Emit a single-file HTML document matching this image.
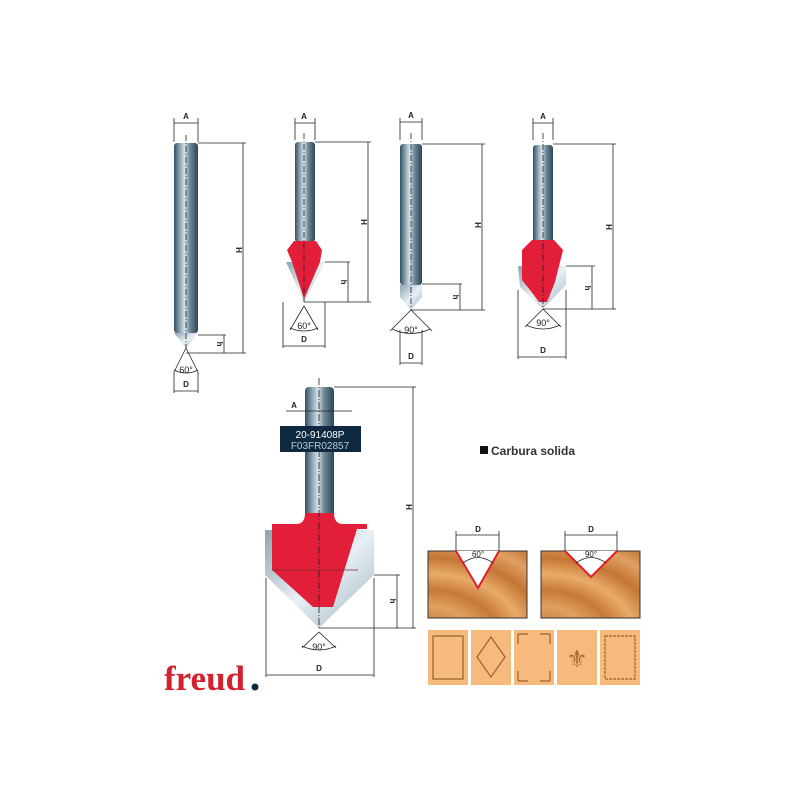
<!DOCTYPE html>
<html><head><meta charset="utf-8"><style>
html,body{margin:0;padding:0;background:#fff}
svg{display:block}
</style></head><body>
<svg width="800" height="800" viewBox="0 0 800 800" xmlns="http://www.w3.org/2000/svg" font-family="Liberation Sans, sans-serif">
<defs>
<linearGradient id="sh" x1="0" x2="1" y1="0" y2="0">
<stop offset="0" stop-color="#2f4f62"/><stop offset="0.25" stop-color="#8fa6b3"/><stop offset="0.45" stop-color="#d8e3ea"/><stop offset="0.65" stop-color="#6f8a99"/><stop offset="1" stop-color="#2c4657"/>
</linearGradient>
<linearGradient id="gr" x1="0" x2="1" y1="0" y2="1">
<stop offset="0" stop-color="#8da3b0"/><stop offset="0.5" stop-color="#e8f0f5"/><stop offset="1" stop-color="#9fb4c0"/>
</linearGradient>
<radialGradient id="wood" cx="0" cy="1.3" r="1.6">
<stop offset="0" stop-color="#b8652a"/><stop offset="0.3" stop-color="#e0a060"/><stop offset="0.45" stop-color="#c87838"/><stop offset="0.6" stop-color="#e8ac6a"/><stop offset="0.75" stop-color="#c57535"/><stop offset="0.9" stop-color="#dfa062"/><stop offset="1" stop-color="#c98040"/>
</radialGradient>
</defs>
<g stroke="#222" stroke-width="0.8" fill="none">
<!-- Tool 1 -->
<rect x="174" y="143" width="24" height="190" rx="3" fill="url(#sh)" stroke="none"/>
<polygon points="174,333 198,333 186,348" fill="url(#gr)" stroke="none"/>
<line x1="186" y1="135" x2="186" y2="348" stroke-dasharray="6,2,1,2"/>
<line x1="174" y1="118" x2="174" y2="142"/><line x1="198" y1="118" x2="198" y2="142"/><line x1="174" y1="123" x2="198" y2="123"/>
<line x1="198" y1="143" x2="246" y2="143"/><line x1="243" y1="143" x2="243" y2="353"/><line x1="186" y1="353" x2="246" y2="353"/>
<line x1="198" y1="335" x2="226" y2="335"/><line x1="224" y1="335" x2="224" y2="353"/>
<line x1="186" y1="348" x2="174" y2="372"/><line x1="186" y1="348" x2="198" y2="372"/>
<path d="M174,370 Q186,376 198,370"/>
<line x1="174" y1="372" x2="174" y2="393"/><line x1="198" y1="372" x2="198" y2="393"/><line x1="174" y1="391" x2="198" y2="391"/>
<!-- Tool 2 -->
<rect x="295" y="142" width="20" height="100" rx="3" fill="url(#sh)" stroke="none"/>
<polygon points="286,262 294,262 304,296 314,262 325,262 304,302" fill="url(#gr)" stroke="none"/>
<polygon points="294,241 316,241 322,250 320,262 304,299 292,262 287,250" fill="#e31e38" stroke="none"/>
<line x1="304" y1="133" x2="304" y2="302" stroke-dasharray="6,2,1,2"/>
<line x1="295" y1="118" x2="295" y2="140"/><line x1="315" y1="118" x2="315" y2="140"/><line x1="295" y1="123" x2="315" y2="123"/>
<line x1="315" y1="142" x2="371" y2="142"/><line x1="368" y1="142" x2="368" y2="302"/><line x1="304" y1="302" x2="371" y2="302"/>
<line x1="325" y1="262" x2="350" y2="262"/><line x1="348" y1="262" x2="348" y2="302"/>
<line x1="304" y1="306" x2="290" y2="330"/><line x1="304" y1="306" x2="318" y2="330"/>
<path d="M290,328 Q304,334 318,328"/>
<line x1="283" y1="302" x2="283" y2="348"/><line x1="325" y1="302" x2="325" y2="348"/><line x1="283" y1="346" x2="325" y2="346"/>
<!-- Tool 3 -->
<rect x="400" y="144" width="22" height="141" rx="3" fill="url(#sh)" stroke="none"/>
<polygon points="400,285 422,285 422,297 411,310 400,297" fill="url(#gr)" stroke="none"/>
<line x1="411" y1="133" x2="411" y2="310" stroke-dasharray="6,2,1,2"/>
<line x1="400" y1="118" x2="400" y2="140"/><line x1="422" y1="118" x2="422" y2="140"/><line x1="400" y1="122" x2="422" y2="122"/>
<line x1="422" y1="144" x2="485" y2="144"/><line x1="482" y1="144" x2="482" y2="310"/><line x1="411" y1="310" x2="485" y2="310"/>
<line x1="422" y1="284" x2="462" y2="284"/><line x1="460" y1="284" x2="460" y2="310"/>
<line x1="411" y1="310" x2="390" y2="331"/><line x1="411" y1="310" x2="432" y2="331"/>
<path d="M392,329 Q411,338 430,329"/>
<line x1="400" y1="330" x2="400" y2="365"/><line x1="422" y1="330" x2="422" y2="365"/><line x1="400" y1="363" x2="422" y2="363"/>
<!-- Tool 4 -->
<rect x="533" y="145" width="20" height="97" rx="3" fill="url(#sh)" stroke="none"/>
<polygon points="518,266 566,266 566,285 543,309 520,287" fill="url(#gr)" stroke="none"/>
<polygon points="532,240 554,240 563,250 555,282 547,302 539,302 530,290 522,280 522,250" fill="#e31e38" stroke="none"/>
<line x1="543" y1="133" x2="543" y2="309" stroke-dasharray="6,2,1,2"/>
<line x1="533" y1="118" x2="533" y2="140"/><line x1="553" y1="118" x2="553" y2="140"/><line x1="533" y1="123" x2="553" y2="123"/>
<line x1="553" y1="144" x2="616" y2="144"/><line x1="613" y1="144" x2="613" y2="309"/><line x1="543" y1="309" x2="616" y2="309"/>
<line x1="566" y1="266" x2="595" y2="266"/><line x1="592" y1="266" x2="592" y2="309"/>
<line x1="543" y1="309" x2="525" y2="327"/><line x1="543" y1="309" x2="561" y2="327"/>
<path d="M526,325 Q543,333 560,325"/>
<line x1="518" y1="290" x2="518" y2="359"/><line x1="566" y1="290" x2="566" y2="359"/><line x1="518" y1="357" x2="566" y2="357"/>
<!-- Big tool -->
<rect x="305" y="387" width="29" height="132" rx="4" fill="url(#sh)" stroke="none"/>
<polygon points="265,530 272,530 272,570 313,607 333,607 357,530 374,530 374,575 319,628 265,575" fill="url(#gr)" stroke="none"/>
<path d="M305,513 Q305,524 296,524 L272,524 L272,570 L313,607 L333,607 L357,529 L367,529 L367,524 L343,524 Q334,524 334,513 Z" fill="#e31e38" stroke="none"/>
<line x1="272" y1="570" x2="358" y2="570" stroke="#7a2a2a"/>
<line x1="319" y1="378" x2="319" y2="628" stroke-dasharray="7,2,1,2"/>
<line x1="286" y1="411" x2="352" y2="411"/>
<line x1="334" y1="387" x2="416" y2="387"/><line x1="413" y1="387" x2="413" y2="628"/><line x1="319" y1="628" x2="416" y2="628"/>
<line x1="374" y1="575" x2="400" y2="575"/><line x1="397" y1="575" x2="397" y2="628"/>
<line x1="319" y1="632" x2="302" y2="648"/><line x1="319" y1="632" x2="336" y2="648"/>
<path d="M302,646 Q319,654 336,646"/>
<line x1="266" y1="578" x2="266" y2="677"/><line x1="374" y1="578" x2="374" y2="677"/><line x1="266" y1="675" x2="374" y2="675"/>
</g>
<rect x="280" y="426" width="81" height="26" fill="#0f2a40"/>
<text x="320" y="438" font-size="10" fill="#fff" text-anchor="middle">20-91408P</text>
<text x="320" y="449" font-size="10" fill="#b8c8d4" text-anchor="middle">F03FR02857</text>
<g font-size="8" fill="#222" text-anchor="middle" font-weight="bold">
<text x="186" y="119">A</text><text x="304" y="119">A</text><text x="411" y="118">A</text><text x="543" y="119">A</text><text x="294" y="408">A</text>
<text x="186" y="387">D</text><text x="304" y="342">D</text><text x="411" y="359">D</text><text x="543" y="353">D</text><text x="319" y="671">D</text>
<text transform="translate(236,250) rotate(90)">H</text><text transform="translate(361,222) rotate(90)">H</text><text transform="translate(475,225) rotate(90)">H</text><text transform="translate(606,227) rotate(90)">H</text><text transform="translate(406,507) rotate(90)">H</text>
<text transform="translate(217,344) rotate(90)">h</text><text transform="translate(341,282) rotate(90)">h</text><text transform="translate(453,297) rotate(90)">h</text><text transform="translate(585,288) rotate(90)">h</text><text transform="translate(390,601) rotate(90)">h</text>
</g>
<g font-size="9" fill="#222" text-anchor="middle">
<text x="186" y="373">60°</text><text x="304" y="329">60°</text><text x="411" y="333">90°</text><text x="543" y="326">90°</text><text x="319" y="650">90°</text>
</g>
<rect x="480" y="446" width="8" height="8" fill="#111"/>
<text x="491" y="455" font-size="12" font-weight="bold" fill="#333">Carbura solida</text>
<!-- wood -->
<rect x="428" y="551" width="99" height="67" fill="url(#wood)" stroke="#333" stroke-width="1"/>
<polygon points="456,551 499,551 478,588" fill="#fff"/>
<polyline points="456,551 478,588 499,551" fill="none" stroke="#e0202a" stroke-width="2"/>
<rect x="541" y="551" width="99" height="67" fill="url(#wood)" stroke="#333" stroke-width="1"/>
<polygon points="565,551 617,551 591,577" fill="#fff"/>
<polyline points="565,551 591,577 617,551" fill="none" stroke="#e0202a" stroke-width="2"/>
<g stroke="#222" stroke-width="0.8" fill="none">
<line x1="456" y1="531" x2="456" y2="551"/><line x1="499" y1="531" x2="499" y2="551"/><line x1="456" y1="535" x2="499" y2="535"/>
<line x1="565" y1="531" x2="565" y2="551"/><line x1="617" y1="531" x2="617" y2="551"/><line x1="565" y1="535" x2="617" y2="535"/>
<path d="M463,563 Q478,552 493,563"/><path d="M576,563 Q591,552 606,563"/>
</g>
<g font-size="8" fill="#222" text-anchor="middle"><text x="478" y="532" font-weight="bold">D</text><text x="591" y="532" font-weight="bold">D</text><text x="478" y="557">60°</text><text x="591" y="557">90°</text></g>
<g fill="#f6bb7c">
<rect x="428" y="630" width="40" height="55"/><rect x="471" y="630" width="40" height="55"/><rect x="514" y="630" width="40" height="55"/><rect x="557" y="630" width="40" height="55"/><rect x="600" y="630" width="40" height="55"/>
</g>
<g fill="none" stroke="#9a6030" stroke-width="1.2">
<rect x="433" y="636" width="30" height="43"/>
<polygon points="491,637 505,657 491,677 477,657"/>
<path d="M518,634 l10,0 M518,634 l0,10 M550,634 l-10,0 M550,634 l0,10 M518,681 l10,0 M518,681 l0,-10 M550,681 l-10,0 M550,681 l0,-10"/>
<rect x="605" y="636" width="30" height="43" stroke-dasharray="3,1"/>
</g>
<text x="577" y="667" font-size="24" fill="#a86a35" text-anchor="middle">⚜</text>
<text x="164" y="690" style="font-family:'Liberation Serif',serif;font-weight:bold;font-size:35px" fill="#d4202f">freud</text>
<circle cx="255" cy="687" r="3.5" fill="#0f2a40"/>
</svg>
</body></html>
